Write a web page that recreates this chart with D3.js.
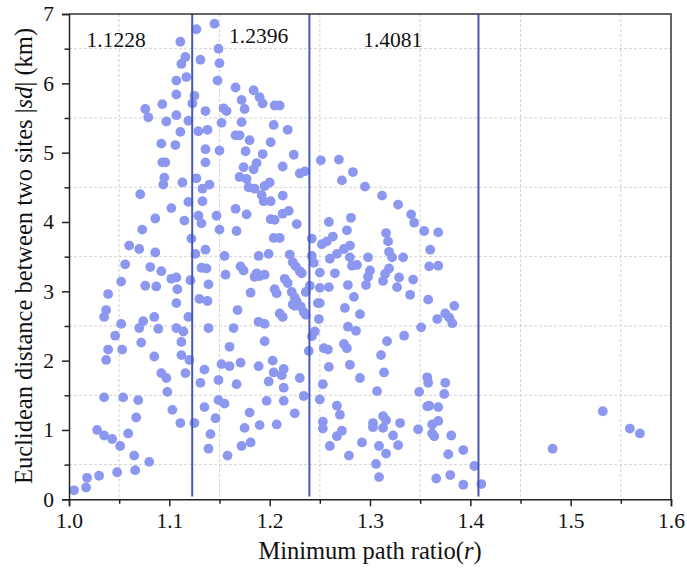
<!DOCTYPE html>
<html>
<head>
<meta charset="utf-8">
<script src="https://cdn.jsdelivr.net/npm/d3@7"></script>
<style>
  html, body { margin: 0; padding: 0; background: #fff; }
  svg { display: block; }
  text { font-family: "Liberation Serif", "Times New Roman", serif; fill: #111; }
</style>
</head>
<body>
<svg id="chart" width="687" height="573"></svg>
<script>
// ---- data ----
const xTicks = [1.0, 1.1, 1.2, 1.3, 1.4, 1.5, 1.6];
const yTicks = [0, 1, 2, 3, 4, 5, 6, 7];
const thresholds = [1.1228, 1.2396, 1.4081];
const thresholdLabels = ["1.1228", "1.2396", "1.4081"];
const thresholdLabelPos = [[1.0175, 6.52], [1.1595, 6.58], [1.2932, 6.52]];

const points = [
  [1.127,6.78],[1.111,6.60],[1.116,6.38],[1.112,6.28],[1.131,6.34],[1.117,6.09],[1.107,6.04],[1.107,5.84],
  [1.125,5.82],[1.123,5.71],[1.093,5.70],[1.076,5.63],[1.079,5.51],[1.107,5.54],[1.097,5.45],[1.119,5.46],
  [1.136,5.60],[1.111,5.30],[1.129,5.31],[1.138,5.33],[1.092,5.13],[1.106,5.11],[1.136,5.05],[1.093,4.86],
  [1.096,4.86],[1.136,4.86],[1.095,4.64],[1.094,4.54],[1.113,4.57],[1.127,4.63],[1.133,4.48],[1.140,4.54],
  [1.071,4.40],[1.119,4.29],[1.133,4.30],[1.102,4.20],[1.086,4.05],[1.115,4.02],[1.129,4.09],[1.132,3.98],
  [1.073,3.89],[1.122,3.76],[1.060,3.66],[1.070,3.61],[1.086,3.56],[1.126,3.54],[1.136,3.60],
  [1.145,6.86],[1.149,6.50],[1.150,6.29],[1.148,6.04],[1.166,5.94],[1.184,5.90],[1.190,5.80],[1.172,5.76],
  [1.193,5.71],[1.175,5.63],[1.205,5.68],[1.210,5.68],[1.154,5.64],[1.157,5.60],[1.152,5.43],[1.172,5.44],
  [1.204,5.40],[1.218,5.33],[1.166,5.25],[1.170,5.25],[1.180,5.18],[1.201,5.15],[1.150,5.03],[1.176,5.02],
  [1.193,4.98],[1.224,4.97],[1.213,4.80],[1.187,4.85],[1.184,4.76],[1.174,4.79],[1.170,4.65],[1.177,4.62],
  [1.230,4.70],[1.235,4.73],[1.251,4.89],[1.269,4.90],[1.179,4.50],[1.185,4.48],[1.195,4.52],[1.200,4.57],
  [1.192,4.39],[1.194,4.30],[1.201,4.30],[1.213,4.38],[1.272,4.60],[1.166,4.19],[1.177,4.11],[1.147,4.09],
  [1.213,4.12],[1.219,4.16],[1.201,4.04],[1.205,4.03],[1.227,3.97],[1.150,3.89],[1.167,3.87],[1.204,3.77],
  [1.210,3.77],[1.242,3.76],[1.252,3.68],[1.257,3.72],[1.263,3.79],[1.259,4.00],[1.267,3.54],[1.155,3.51],
  [1.189,3.51],[1.199,3.54],[1.220,3.53],[1.242,3.51],[1.260,3.47],
  [1.283,4.72],[1.295,4.51],[1.312,4.38],[1.328,4.25],[1.341,4.11],[1.344,3.99],[1.281,4.06],[1.277,3.88],
  [1.354,3.87],[1.368,3.85],[1.316,3.84],[1.318,3.72],[1.280,3.66],[1.274,3.61],[1.319,3.57],[1.322,3.49],
  [1.333,3.49],[1.360,3.60],[1.298,3.49],[1.280,3.49],
  [1.359,3.36],[1.368,3.37],[1.282,3.37],[1.287,3.38],[1.265,3.26],[1.300,3.30],[1.298,3.21],[1.296,3.09],
  [1.319,3.33],[1.315,3.25],[1.313,3.15],[1.329,3.20],[1.343,3.17],[1.327,3.06],[1.278,3.09],[1.284,2.92],
  [1.340,2.95],[1.358,2.88],[1.275,2.76],[1.290,2.67],[1.384,2.79],[1.375,2.68],[1.379,2.62],[1.382,2.54],
  [1.367,2.60],[1.351,2.48],[1.278,2.49],[1.286,2.43],[1.334,2.36],[1.317,2.28],[1.274,2.24],[1.277,2.18],
  [1.311,2.08],[1.280,1.94],[1.314,1.83],[1.290,1.75],[1.357,1.76],[1.358,1.68],[1.375,1.68],[1.374,1.52],
  [1.349,1.55],[1.307,1.56],[1.267,1.35],[1.270,1.22],[1.357,1.34],[1.359,1.35],[1.368,1.33],[1.313,1.20],
  [1.316,1.14],[1.303,1.10],[1.303,1.04],[1.313,1.03],[1.330,1.10],[1.348,1.01],[1.362,1.08],[1.368,1.13],
  [1.362,0.95],[1.364,0.91],[1.323,0.92],[1.381,0.92],[1.292,0.82],[1.309,0.77],[1.316,0.66],[1.328,0.78],
  [1.279,0.63],[1.393,0.71],[1.378,0.65],[1.306,0.51],[1.309,0.32],[1.366,0.30],[1.380,0.35],[1.404,0.48],
  [1.393,0.21],[1.411,0.22],[1.482,0.73],[1.532,1.27],[1.559,1.02],[1.569,0.95],[1.260,0.77],
  [1.132,3.34],[1.137,3.33],[1.056,3.39],[1.081,3.35],[1.092,3.29],[1.102,3.18],[1.107,3.20],[1.121,3.16],
  [1.139,3.10],[1.052,3.14],[1.076,3.08],[1.087,3.07],[1.108,3.03],[1.039,2.96],[1.107,2.83],[1.130,2.89],
  [1.138,2.86],[1.037,2.73],[1.035,2.63],[1.085,2.63],[1.119,2.63],[1.052,2.53],[1.074,2.57],[1.070,2.47],
  [1.089,2.46],[1.107,2.47],[1.114,2.42],[1.139,2.47],[1.046,2.36],[1.112,2.27],[1.072,2.26],[1.039,2.16],
  [1.053,2.16],[1.112,2.08],[1.037,2.01],[1.085,2.06],[1.120,2.01],[1.092,1.82],[1.097,1.75],[1.116,1.82],
  [1.135,1.87],[1.098,1.55],[1.131,1.68],[1.035,1.47],[1.054,1.47],[1.069,1.43],[1.135,1.33],[1.103,1.29],
  [1.067,1.18],[1.111,1.10],[1.125,1.10],[1.028,1.00],[1.035,0.92],[1.043,0.87],[1.059,0.95],[1.051,0.77],
  [1.141,0.94],[1.139,0.73],[1.065,0.63],[1.080,0.54],[1.066,0.42],[1.048,0.39],[1.030,0.34],[1.018,0.31],
  [1.017,0.17],[1.005,0.13],
  [1.146,1.17],[1.149,1.72],[1.149,1.43],[1.155,1.38],[1.152,1.95],[1.160,1.92],[1.158,0.63],[1.167,1.66],
  [1.171,1.97],[1.175,1.03],[1.172,0.77],[1.181,0.82],[1.180,1.25],[1.189,1.92],[1.190,1.07],[1.197,1.42],
  [1.199,1.70],[1.203,2.00],[1.204,1.83],[1.212,1.79],[1.207,1.08],[1.214,1.61],[1.214,1.42],[1.214,1.88],
  [1.225,1.24],[1.230,1.75],[1.234,1.49],[1.250,1.44],[1.259,1.91],[1.253,1.66],[1.253,1.12],[1.253,1.02],
  [1.267,0.91],[1.272,0.99],
  [1.223,3.42],[1.226,3.36],[1.230,3.29],[1.232,3.26],[1.244,3.41],[1.250,3.27],[1.156,3.24],[1.171,3.36],
  [1.174,3.30],[1.187,3.26],[1.190,3.22],[1.195,3.24],[1.185,3.21],[1.181,2.98],[1.215,3.18],[1.218,3.12],
  [1.205,3.03],[1.207,2.97],[1.236,2.99],[1.240,3.08],[1.250,3.05],[1.259,3.06],[1.222,2.99],[1.225,2.91],
  [1.227,2.85],[1.231,2.78],[1.234,2.70],[1.236,2.66],[1.223,2.81],[1.225,2.79],[1.248,2.83],[1.250,2.83],
  [1.249,2.60],[1.168,2.73],[1.210,2.68],[1.213,2.63],[1.189,2.56],[1.195,2.53],[1.164,2.47],[1.195,2.28],
  [1.160,2.20],[1.242,2.35],[1.245,2.42],[1.239,2.14],[1.254,2.18],[1.258,2.16]
];

// ---- layout ----
const svg = d3.select("#chart");
const L = 69, R = 671, T = 14, B = 499.3;
const x = d3.scaleLinear().domain([1.0, 1.6]).range([L, R]);
const y = d3.scaleLinear().domain([0, 7]).range([B, T]);

const minorX = d3.range(1.05, 1.6, 0.1);
const minorY = d3.range(0.5, 7, 1);

// grid (minor positions, dashed)
const grid = svg.append("g");
grid.selectAll("line.gx").data(minorX).join("line")
  .attr("x1", d => x(d)).attr("x2", d => x(d)).attr("y1", T).attr("y2", B)
  .attr("stroke", "#cfcfcf").attr("stroke-width", 0.9).attr("stroke-dasharray", "3,2");
grid.selectAll("line.gy").data(minorY).join("line")
  .attr("x1", L).attr("x2", R).attr("y1", d => y(d)).attr("y2", d => y(d))
  .attr("stroke", "#cfcfcf").attr("stroke-width", 0.9).attr("stroke-dasharray", "3,2");

// points
svg.append("g").selectAll("circle").data(points).join("circle")
  .attr("cx", d => x(d[0])).attr("cy", d => y(d[1])).attr("r", 4.9)
  .attr("fill", "#8c97ef");

// threshold lines
svg.append("g").selectAll("line").data(thresholds).join("line")
  .attr("x1", d => x(d)).attr("x2", d => x(d)).attr("y1", y(7)).attr("y2", y(0.04))
  .attr("stroke", "#4658b8").attr("stroke-width", 2);

svg.append("g").selectAll("text").data(thresholdLabels).join("text")
  .attr("x", (d, i) => x(thresholdLabelPos[i][0]))
  .attr("y", (d, i) => y(thresholdLabelPos[i][1]))
  .attr("font-size", 21.5).text(d => d);

// axes
const xAxis = d3.axisBottom(x).tickValues(xTicks).tickFormat(d3.format(".1f")).tickSize(7).tickPadding(6);
const gx = svg.append("g").attr("transform", `translate(0,${B})`).call(xAxis);
gx.selectAll(".tick text").attr("font-size", 21.5).attr("fill", "#111");
const xMinor = d3.axisBottom(x).tickValues(minorX).tickFormat("").tickSize(4.5);
svg.append("g").attr("transform", `translate(0,${B})`).call(xMinor).select(".domain").remove();

const yAxis = d3.axisLeft(y).tickValues(yTicks).tickFormat(d3.format("d")).tickSize(7).tickPadding(8);
const gy = svg.append("g").attr("transform", `translate(${L},0)`).call(yAxis);
gy.selectAll(".tick text").attr("font-size", 21.5).attr("fill", "#111");
const yMinor = d3.axisLeft(y).tickValues(minorY).tickFormat("").tickSize(4.5);
svg.append("g").attr("transform", `translate(${L},0)`).call(yMinor).select(".domain").remove();

svg.selectAll(".tick line").attr("stroke", "#222").attr("stroke-width", 1.5);
svg.selectAll(".domain").attr("stroke", "#222").attr("stroke-width", 1.5);

// frame top/right
svg.append("path")
  .attr("d", `M${L},${T}H${R}V${B}`)
  .attr("fill", "none").attr("stroke", "#333").attr("stroke-width", 1.5);

// axis titles
const xt = svg.append("text").attr("x", 370).attr("y", 559).attr("text-anchor", "middle").attr("font-size", 24.5);
xt.append("tspan").text("Minimum path ratio(");
xt.append("tspan").attr("font-style", "italic").text("r");
xt.append("tspan").text(")");

const yt = svg.append("text").attr("transform", "translate(32,256) rotate(-90)")
  .attr("text-anchor", "middle").attr("font-size", 24.5);
yt.append("tspan").text("Euclidean distance between two sites |");
yt.append("tspan").attr("font-style", "italic").text("sd");
yt.append("tspan").text("| (km)");
</script>
</body>
</html>
